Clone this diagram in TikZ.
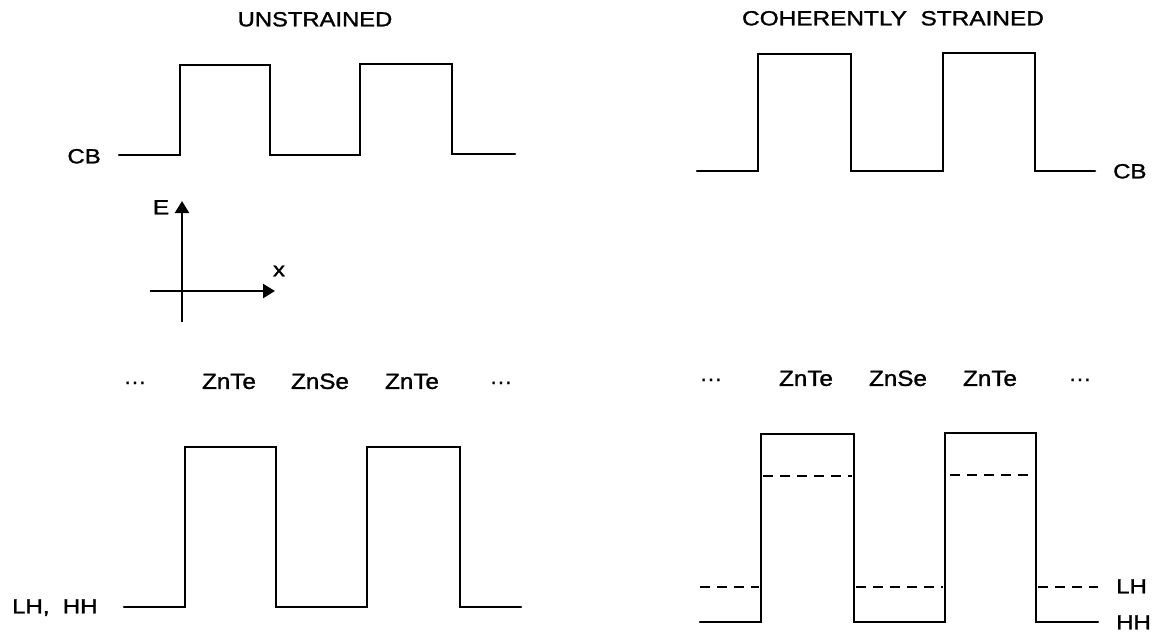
\documentclass[tikz,border=0pt]{standalone}
\usepackage{fontspec}
\setmainfont{Liberation Sans}[FakeBold=1.2]
\usetikzlibrary{arrows.meta}
\newcommand{\widetxt}[2][1.2]{\scalebox{#1}[1]{#2}}
\tikzset{
  band/.style={line width=2.5pt, line join=miter, line cap=round},
  level/.style={line width=2.5pt, dash pattern=on 10pt off 7pt},
  lab/.style={font=\fontsize{20.5}{22}\selectfont, inner sep=0pt, text height=14.7pt, text depth=0pt},
  mat/.style={font=\fontsize{22}{23}\selectfont, inner sep=0pt, text height=15.8pt, text depth=0pt},
  axis/.style={line width=2.3pt, -{Triangle[length=12pt,width=14pt]}},
}
\begin{document}
\begin{tikzpicture}[x=1pt,y=-1pt]
\useasboundingbox (0,0) rectangle (1153,632);
\fill[white] (0,0) rectangle (1153,632);

% titles
\node[lab] (t1) at (315,19) {\widetxt[1.16]{UNSTRAINED}};
\node[lab] (t2) at (893,18) {\widetxt[1.19]{COHERENTLY~~STRAINED}};

% top left: CB unstrained
\draw[band] (119,155) -- (180,155) -- (180,65) -- (270,65) -- (270,155)
  -- (360,155) -- (360,64) -- (452,64) -- (452,154) -- (515,154);
\node[lab, anchor=east] (cbl) at (101,156) {\widetxt[1.17]{CB}};

% top right: CB strained
\draw[band] (697,171) -- (758,171) -- (758,54) -- (851,54) -- (851,171)
  -- (943,171) -- (943,53) -- (1035,53) -- (1035,171) -- (1095,171);
\node[lab, anchor=west] (cbr) at (1113,171) {\widetxt[1.17]{CB}};

% axes
\coordinate (ay0) at (182,322);
\coordinate (ay1) at (182,201);
\coordinate (ax0) at (150,291);
\coordinate (ax1) at (275,291);
\draw[axis] (ay0) -- (ay1);
\draw[axis] (ax0) -- (ax1);
\node[lab] (E) at (161,207) {\widetxt{E}};
\node[font=\fontsize{20}{22}\selectfont, inner sep=0pt] (xl) at (279,271) {\widetxt{x}};

% layer labels left
\node[mat] (dl1) at (135,381) {···};
\node[mat] (zl1) at (229,381) {\widetxt[1.1]{ZnTe}};
\node[mat] (zl2) at (320,381) {\widetxt[1.1]{ZnSe}};
\node[mat] (zl3) at (412,381) {\widetxt[1.1]{ZnTe}};
\node[mat] (dl2) at (501,381) {···};

% layer labels right
\node[mat] (dr1) at (711,378) {···};
\node[mat] (zr1) at (806,378) {\widetxt[1.1]{ZnTe}};
\node[mat] (zr2) at (898,378) {\widetxt[1.1]{ZnSe}};
\node[mat] (zr3) at (990,378) {\widetxt[1.1]{ZnTe}};
\node[mat] (dr2) at (1080,378) {···};

% bottom left: valence band unstrained
\draw[band] (124,607) -- (185,607) -- (185,447) -- (276,447) -- (276,607)
  -- (367,607) -- (367,447) -- (460,447) -- (460,607) -- (521,607);
\node[lab, anchor=west] (lhhh) at (12,606) {\widetxt[1.17]{LH,~~HH}};

% bottom right: valence band strained
\draw[band] (700,622) -- (761,622) -- (761,434) -- (854,434) -- (854,622)
  -- (945,622) -- (945,433) -- (1036,433) -- (1036,622) -- (1098,622);
\draw[level] (763,476) -- (852,476);
\draw[level] (950,475) -- (1034,475);
\draw[level] (700,587) -- (759,587);
\draw[level] (856,587) -- (943,587);
\draw[level] (1038,587) -- (1098,587);
\node[lab, anchor=west] (lh) at (1116,586) {\widetxt[1.17]{LH}};
\node[lab, anchor=west] (hh) at (1116,622) {\widetxt[1.17]{HH}};
\end{tikzpicture}
\end{document}
